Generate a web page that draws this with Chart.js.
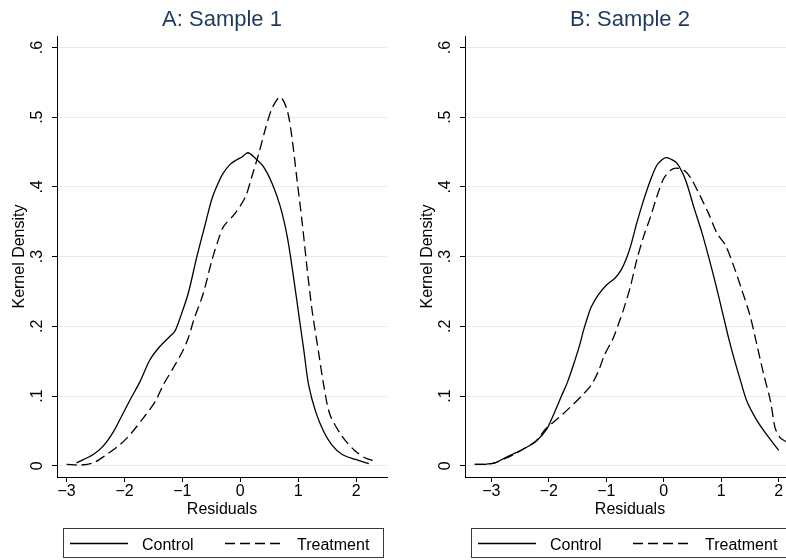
<!DOCTYPE html>
<html>
<head>
<meta charset="utf-8">
<script src="https://cdn.jsdelivr.net/npm/chart.js@4.4.1/dist/chart.umd.min.js"></script>
<style>
  html, body { margin:0; padding:0; background:#fff; overflow:hidden; }
  #wrap { position:relative; width:786px; height:560px; overflow:hidden; }
  #wrap canvas { position:absolute; top:0; }
</style>
</head>
<body>
<div id="wrap">
  <canvas id="panelA" width="393" height="560" style="left:0px"></canvas>
  <canvas id="panelB" width="393" height="560" style="left:408px"></canvas>
</div>
<script>
const xTicks = [-3, -2, -1, 0, 1, 2];
const yTicks = [0, .1, .2, .3, .4, .5, .6];
const seriesLabels = ['Control', 'Treatment'];
const panelTitles = ['A: Sample 1', 'B: Sample 2'];

// panel A: Sample 1
const aControlX = [-2.83,-2.54,-2.37,-2.19,-2.05,-1.90,-1.73,-1.56,-1.39,-1.21,-1.13,-1.04,-0.90,-0.75,-0.61,-0.49,-0.40,-0.30,-0.18,-0.06,0.03,0.13,0.26,0.40,0.55,0.69,0.81,0.91,1.02,1.10,1.18,1.30,1.44,1.58,1.76,1.99,2.22];
const aControlY = [0.004,0.016,0.028,0.049,0.071,0.095,0.121,0.152,0.171,0.186,0.193,0.212,0.247,0.300,0.345,0.383,0.402,0.419,0.432,0.439,0.443,0.449,0.441,0.429,0.405,0.372,0.329,0.276,0.211,0.164,0.116,0.078,0.049,0.030,0.016,0.009,0.003];
const aTreatX = [-3.00,-2.75,-2.54,-2.31,-2.08,-1.88,-1.68,-1.47,-1.33,-1.16,-1.01,-0.90,-0.80,-0.64,-0.49,-0.38,-0.29,-0.09,0.09,0.20,0.32,0.43,0.55,0.69,0.81,0.89,0.98,1.07,1.15,1.24,1.35,1.44,1.55,1.76,1.96,2.16,2.36];
const aTreatY = [0.002,0.001,0.004,0.016,0.030,0.047,0.068,0.092,0.116,0.140,0.162,0.183,0.210,0.247,0.295,0.324,0.343,0.362,0.386,0.415,0.448,0.482,0.513,0.529,0.510,0.472,0.410,0.348,0.286,0.223,0.164,0.116,0.073,0.042,0.023,0.011,0.006];

// panel B: Sample 2
const bControlX = [-3.29,-3.12,-2.94,-2.77,-2.59,-2.42,-2.22,-2.04,-1.93,-1.78,-1.67,-1.55,-1.46,-1.40,-1.33,-1.26,-1.14,-1.00,-0.85,-0.74,-0.66,-0.58,-0.47,-0.35,-0.23,-0.12,-0.03,0.04,0.12,0.23,0.38,0.52,0.67,0.78,0.90,1.04,1.13,1.22,1.34,1.45,1.60,1.77,2.00];
const bControlY = [0.002,0.002,0.004,0.011,0.018,0.025,0.035,0.052,0.071,0.100,0.121,0.150,0.174,0.193,0.212,0.228,0.245,0.259,0.269,0.281,0.295,0.314,0.348,0.381,0.410,0.431,0.439,0.442,0.440,0.434,0.410,0.372,0.333,0.300,0.262,0.214,0.183,0.155,0.121,0.092,0.068,0.047,0.022];
const bTreatX = [-3.29,-3.12,-2.94,-2.77,-2.59,-2.42,-2.22,-2.04,-1.84,-1.64,-1.43,-1.26,-1.14,-1.03,-0.88,-0.75,-0.70,-0.58,-0.47,-0.35,-0.23,-0.12,0.00,0.12,0.23,0.38,0.49,0.64,0.78,0.93,1.07,1.22,1.36,1.50,1.62,1.74,1.86,1.94,2.03,2.12,2.22];
const bTreatY = [0.002,0.002,0.004,0.010,0.017,0.025,0.036,0.054,0.068,0.083,0.100,0.116,0.135,0.159,0.183,0.212,0.224,0.257,0.295,0.329,0.357,0.386,0.412,0.424,0.427,0.422,0.410,0.386,0.362,0.333,0.317,0.286,0.252,0.216,0.174,0.131,0.092,0.054,0.040,0.035,0.029];

Chart.defaults.font.family = 'Arial, "Liberation Sans", Helvetica, sans-serif';
Chart.defaults.font.size = 16;
Chart.defaults.color = '#000';

function toPoints(xs, ys){
  return xs.map((x, i) => ({x, y: ys[i]}));
}

function fmtX(v){
  return v < 0 ? '\u2212' + Math.abs(v) : String(v);
}
function fmtY(v){
  return v === 0 ? '0' : String(v).replace(/^0/, '');
}

// Stata style legend: box under the plot with line samples
const boxLegend = {
  id:'boxLegend',
  afterDraw(chart){
    const {ctx, chartArea:area} = chart;
    const left = Math.round(area.left + 6), right = Math.round(area.right - 4);
    const top = Math.round(area.bottom + 51), bottom = Math.round(area.bottom + 80);
    ctx.save();
    ctx.strokeStyle = '#3a3a3a';
    ctx.lineWidth = 1;
    ctx.strokeRect(left + .5, top + .5, right - left, bottom - top);
    const spots = [{from:7, to:65, text:79}, {from:162, to:222, text:234}];
    chart.data.datasets.forEach((ds, i) => {
      const s = spots[i];
      ctx.beginPath();
      ctx.setLineDash(ds.borderDash || []);
      ctx.lineWidth = ds.borderWidth;
      ctx.strokeStyle = ds.borderColor;
      ctx.moveTo(left + s.from, top + 15.5);
      ctx.lineTo(left + s.to, top + 15.5);
      ctx.stroke();
      ctx.setLineDash([]);
      ctx.fillStyle = '#000';
      ctx.font = '16px ' + Chart.defaults.font.family;
      ctx.textBaseline = 'alphabetic';
      ctx.textAlign = 'left';
      ctx.fillText(ds.label, left + s.text, top + 21.5);
    });
    ctx.restore();
  }
};

function makePanel(id, title, xMin, xMax, control, treat){
  return new Chart(document.getElementById(id), {
    type:'line',
    data:{
      datasets:[
        {label:seriesLabels[0], data:control, borderColor:'#000', borderWidth:1.3, pointRadius:0, tension:0.3, fill:false},
        {label:seriesLabels[1], data:treat, borderColor:'#000', borderWidth:1.3, borderDash:[10,5], pointRadius:0, tension:0.3, fill:false}
      ]
    },
    options:{
      responsive:false,
      animation:false,
      events:[],
      layout:{padding:{left:0, right:6, top:0, bottom:38}},
      plugins:{
        legend:{display:false},
        tooltip:{enabled:false},
        title:{
          display:true, text:title, fullSize:false, color:'#1f3a5f',
          font:{size:22, weight:'normal'}, padding:{top:6.5, bottom:3.1}
        }
      },
      scales:{
        x:{
          type:'linear', min:xMin, max:xMax,
          afterBuildTicks: s => { s.ticks = xTicks.map(v => ({value:v})); },
          afterFit: s => { s.height = 45; },
          grid:{drawOnChartArea:false, drawTicks:true, tickLength:5, tickColor:'#000', tickWidth:1},
          border:{display:true, color:'#000', width:1},
          ticks:{autoSkip:false, maxRotation:0, padding:0, color:'#000', callback: v => fmtX(v)},
          title:{display:true, text:'Residuals', color:'#000', padding:{top:0, bottom:2.9}}
        },
        y:{
          type:'linear', min:-0.0162, max:0.6165,
          afterBuildTicks: s => { s.ticks = yTicks.map(v => ({value:v})); },
          afterFit: s => { s.width = 57; },
          grid:{drawOnChartArea:true, color:'#e3ebef', lineWidth:1, drawTicks:true, tickLength:5, tickColor:'#000', tickWidth:1},
          border:{display:true, color:'#000', width:1},
          ticks:{autoSkip:false, minRotation:90, maxRotation:90, crossAlign:'center', padding:8, color:'#000', callback: v => fmtY(v)},
          title:{display:true, text:'Kernel Density', color:'#000', padding:{top:9.8, bottom:0}}
        }
      }
    },
    plugins:[boxLegend]
  });
}

makePanel('panelA', panelTitles[0], -3.166, 2.534, toPoints(aControlX, aControlY), toPoints(aTreatX, aTreatY));
makePanel('panelB', panelTitles[1], -3.459, 2.285, toPoints(bControlX, bControlY), toPoints(bTreatX, bTreatY));
</script>
</body>
</html>
